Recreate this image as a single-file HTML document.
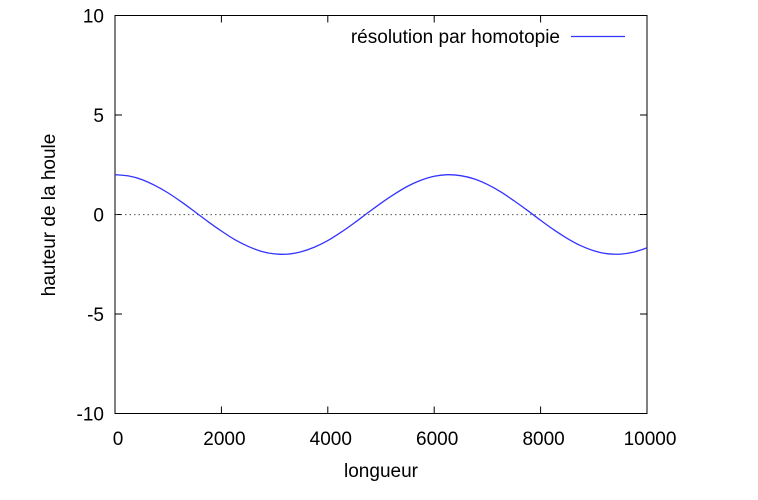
<!DOCTYPE html>
<html><head><meta charset="utf-8"><style>
body{margin:0;background:#fff}
svg text{font-family:"Liberation Sans",Arial,sans-serif;font-size:19px;fill:#000}
</style></head><body>
<svg id="c" width="758" height="495">
<rect x="115" y="15.5" width="532" height="398" fill="none" stroke="#000" stroke-width="1"/>
<g id="ax"></g>
<line x1="116" x2="646" y1="214.6" y2="214.6" stroke="#555" stroke-dasharray="1.5,3"/>
<path id="curve" fill="none" stroke="#3333ff" stroke-width="1.3"/>
<text x="560" y="43" text-anchor="end">résolution par homotopie</text>
<line x1="571" x2="625" y1="36.5" y2="36.5" stroke="#3333ff" stroke-width="1.3"/>
<text x="381" y="477" text-anchor="middle">longueur</text>
<text transform="translate(55,215) rotate(-90)" text-anchor="middle">hauteur de la houle</text>
</svg>
<script>
const xVals=[0,250,500,750,1000,1250,1500,1750,2000,2250,2500,2750,3000,3250,3500,3750,4000,4250,4500,4750,5000,5250,5500,5750,6000,6250,6500,6750,7000,7250,7500,7750,8000,8250,8500,8750,9000,9250,9500,9750,10000];
const yVals=[2.00,1.94,1.76,1.46,1.08,0.63,0.14,-0.36,-0.83,-1.26,-1.60,-1.85,-1.98,-1.99,-1.87,-1.64,-1.31,-0.89,-0.42,0.08,0.57,1.02,1.42,1.72,1.92,2.00,1.95,1.79,1.51,1.14,0.69,0.21,-0.29,-0.77,-1.20,-1.56,-1.82,-1.97,-1.99,-1.89,-1.68];
const xTicks=[0,2000,4000,6000,8000,10000];
const yTicks=[-10,-5,0,5,10];
const X0=115,X1=647,Y0=413.5,Y1=15.5;
const sx=v=>X0+(v-0)/(10000-0)*(X1-X0);
const sy=v=>Y0-(v+10)/20*(Y0-Y1);
const NS="http://www.w3.org/2000/svg";
const ax=document.getElementById('ax');
function mk(t,a){const e=document.createElementNS(NS,t);for(const k in a)e.setAttribute(k,a[k]);ax.appendChild(e);return e;}
xTicks.forEach(v=>{const x=sx(v);
 if(v>0&&v<10000){const l1=mk('line',{x1:x,x2:x,y1:Y0,y2:Y0-7,stroke:'#000'});
 
 
 const l2=mk('line',{x1:x,x2:x,y1:Y1,y2:Y1+7,stroke:'#000'});
 
 }
 const t=mk('text',{x:x+3,y:445,'text-anchor':'middle'});t.textContent=v;
 
 
});
yTicks.forEach(v=>{const y=sy(v);
 if(v>-10&&v<10){const l1=mk('line',{x1:X0,x2:X0+7,y1:y,y2:y,stroke:'#000'});
 
 
 const l2=mk('line',{x1:X1,x2:X1-7,y1:y,y2:y,stroke:'#000'});
 
 }
 const t=mk('text',{x:104,y:y+7,'text-anchor':'end'});t.textContent=v;
 
 
});
const P=xVals.map((x,i)=>[sx(x),sy(yVals[i])]);
let d='M'+P[0][0]+','+P[0][1];
for(let i=0;i<P.length-1;i++){const p0=P[i-1]||P[i],p1=P[i],p2=P[i+1],p3=P[i+2]||P[i+1];
 d+=' C'+(p1[0]+(p2[0]-p0[0])/6)+','+(p1[1]+(p2[1]-p0[1])/6)+' '+(p2[0]-(p3[0]-p1[0])/6)+','+(p2[1]-(p3[1]-p1[1])/6)+' '+p2[0]+','+p2[1];}
document.getElementById('curve').setAttribute('d',d);
</script>
</body></html>
